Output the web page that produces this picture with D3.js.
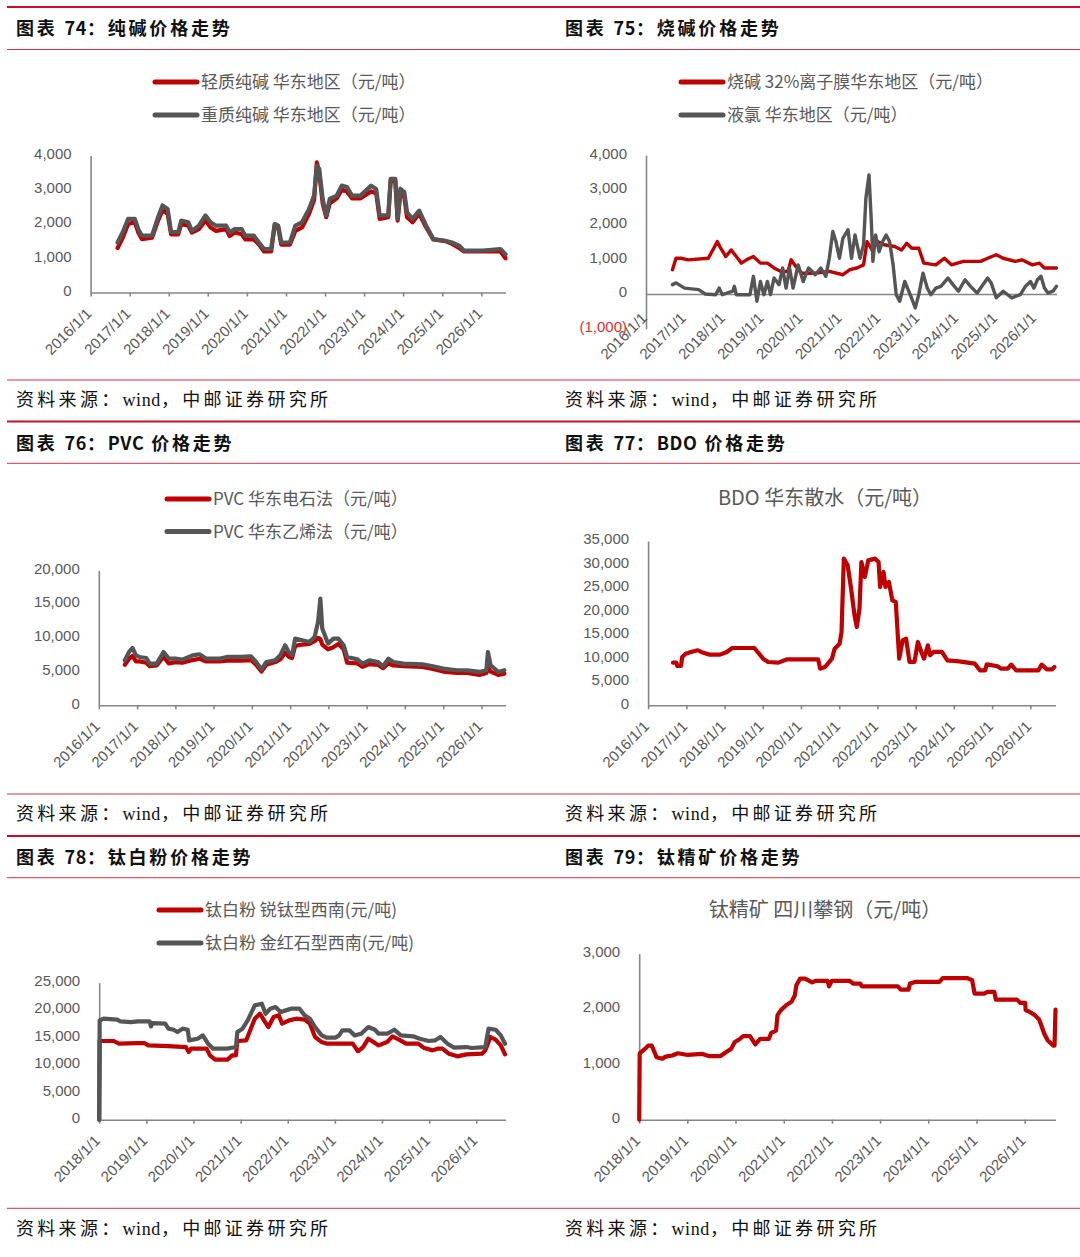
<!DOCTYPE html>
<html>
<head>
<meta charset="utf-8">
<script src="https://cdn.jsdelivr.net/npm/d3@7"></script>
<style>
  body { margin: 0; background: #fff; }
  svg { display: block; }
</style>
</head>
<body>
<svg id="page" width="1080" height="1257"></svg>
<script>
// ---- data (dates as decimal years, prices in 元/吨) ----
const yearTicks = [2016, 2017, 2018, 2019, 2020, 2021, 2022, 2023, 2024, 2025, 2026];
const yearTicksFrom2018 = [2018, 2019, 2020, 2021, 2022, 2023, 2024, 2025, 2026];

// 图表74 纯碱
const sodaYears = [2016.69, 2016.82, 2016.96, 2017.13, 2017.22, 2017.31, 2017.57, 2017.71, 2017.84, 2017.97,
  2018.06, 2018.24, 2018.32, 2018.5, 2018.59, 2018.77, 2018.94, 2019.07, 2019.21, 2019.47, 2019.56, 2019.69,
  2019.87, 2019.96, 2020.18, 2020.31, 2020.44, 2020.62, 2020.71, 2020.8, 2020.88, 2021.1, 2021.24, 2021.41,
  2021.59, 2021.72, 2021.79, 2021.85, 2021.94, 2022.03, 2022.12, 2022.3, 2022.43, 2022.56, 2022.69, 2022.91,
  2023.18, 2023.31, 2023.4, 2023.62, 2023.68, 2023.8, 2023.86, 2023.93, 2024.03, 2024.1, 2024.24, 2024.41,
  2024.59, 2024.77, 2025.08, 2025.25, 2025.43, 2025.56, 2026.04, 2026.49, 2026.62];
const sodaLight = [1300, 1600, 2000, 2050, 1750, 1560, 1600, 2050, 2400, 2300, 1700, 1700, 2000, 1950, 1750,
  1850, 2100, 1900, 1800, 1850, 1650, 1750, 1700, 1550, 1550, 1400, 1200, 1200, 1950, 1900, 1400, 1400, 1800,
  1900, 2300, 2700, 3800, 3500, 2600, 2200, 2600, 2750, 3000, 2950, 2750, 2750, 2950, 2900, 2150, 2200, 3250,
  3250, 2100, 2900, 2800, 2200, 2050, 2300, 1900, 1550, 1500, 1420, 1300, 1200, 1200, 1200, 1000];
const sodaHeavy = [1460, 1760, 2150, 2150, 1850, 1660, 1660, 2150, 2540, 2440, 1760, 1760, 2100, 2050, 1800,
  1950, 2250, 2050, 1950, 1950, 1760, 1850, 1850, 1660, 1660, 1460, 1270, 1270, 2000, 1950, 1460, 1460, 1950,
  2050, 2440, 2830, 3700, 3610, 2730, 2250, 2730, 2830, 3120, 3080, 2830, 2830, 3120, 3020, 2250, 2250, 3320,
  3320, 2150, 3030, 2930, 2340, 2150, 2390, 1950, 1560, 1510, 1460, 1370, 1220, 1220, 1270, 1120];

// 图表75 烧碱 / 液氯
const causticYears = [2016.68, 2016.77, 2016.9, 2017.08, 2017.6, 2017.74, 2017.83, 2017.92, 2018.05, 2018.19,
  2018.32, 2018.45, 2018.58, 2018.76, 2018.94, 2019.12, 2019.29, 2019.47, 2019.65, 2019.73, 2019.82, 2020.0,
  2020.35, 2020.71, 2021.06, 2021.24, 2021.42, 2021.59, 2021.68, 2021.81, 2021.95, 2022.12, 2022.39, 2022.57,
  2022.7, 2022.83, 2023.01, 2023.14, 2023.45, 2023.67, 2023.85, 2024.16, 2024.6, 2024.78, 2025.0, 2025.18,
  2025.49, 2025.66, 2025.93, 2026.11, 2026.24, 2026.37, 2026.55];
const causticPrice = [700, 1030, 1030, 985, 1030, 1320, 1510, 1320, 1080, 1270, 1080, 890, 985, 1080, 890, 890,
  750, 650, 650, 985, 840, 600, 600, 650, 555, 700, 750, 840, 1510, 1270, 1510, 1420, 1370, 1270, 1460, 1320,
  1320, 890, 840, 1030, 840, 940, 940, 1030, 1130, 1030, 940, 985, 840, 890, 750, 750, 750];
const chlorineYears = [2016.68, 2016.77, 2016.99, 2017.35, 2017.52, 2017.79, 2017.88, 2017.96, 2018.23, 2018.27,
  2018.32, 2018.67, 2018.76, 2018.85, 2018.94, 2019.03, 2019.12, 2019.2, 2019.29, 2019.42, 2019.51, 2019.6,
  2019.69, 2019.78, 2019.91, 2020.04, 2020.18, 2020.35, 2020.49, 2020.62, 2020.71, 2020.8, 2020.88, 2020.97,
  2021.06, 2021.19, 2021.28, 2021.37, 2021.5, 2021.59, 2021.65, 2021.73, 2021.79, 2021.83, 2021.9, 2021.99,
  2022.08, 2022.17, 2022.26, 2022.35, 2022.43, 2022.52, 2022.65, 2022.79, 2022.92, 2023.01, 2023.12, 2023.23,
  2023.32, 2023.45, 2023.58, 2023.76, 2023.89, 2024.03, 2024.2, 2024.34, 2024.51, 2024.78, 2024.87, 2025.0,
  2025.18, 2025.4, 2025.62, 2025.75, 2025.88, 2025.97, 2026.06, 2026.15, 2026.24, 2026.33, 2026.46, 2026.55];
const chlorinePrice = [270, 320, 170, 125, 0, -20, 170, -20, 80, 220, -20, -20, 510, -210, 360, -20, 360, -20,
  460, 270, 750, 170, 750, 170, 840, 360, 750, 555, 750, 510, 1030, 1800, 1510, 1030, 1610, 1850, 1030, 1700,
  1030, 1420, 2760, 3430, 2090, 940, 1700, 1220, 1510, 1700, 1510, 840, -20, -210, 360, -20, -400, -20, 600,
  170, -20, 170, 220, 460, 270, 80, 410, 220, 30, 460, 320, -110, 80, -110, -20, 220, 360, 170, 410, 510, 170,
  30, 80, 220];

// 图表76 PVC
const pvcYears = [2016.68, 2016.79, 2016.88, 2016.97, 2017.06, 2017.24, 2017.33, 2017.51, 2017.69, 2017.83,
  2018.0, 2018.18, 2018.45, 2018.63, 2018.81, 2019.17, 2019.35, 2019.71, 2019.98, 2020.11, 2020.25, 2020.38,
  2020.61, 2020.74, 2020.87, 2020.96, 2021.05, 2021.13, 2021.32, 2021.5, 2021.64, 2021.73, 2021.79, 2021.84,
  2021.99, 2022.13, 2022.26, 2022.4, 2022.49, 2022.76, 2022.89, 2023.07, 2023.3, 2023.43, 2023.57, 2023.7,
  2023.97, 2024.46, 2024.73, 2025.0, 2025.36, 2025.63, 2025.95, 2026.13, 2026.17, 2026.24, 2026.44, 2026.6];
const pvcCarbide = [6000, 6900, 7300, 6500, 6500, 6300, 5800, 5900, 7200, 6200, 6400, 6300, 6700, 6900, 6500,
  6500, 6600, 6600, 6700, 6000, 5000, 6000, 6400, 6800, 7800, 7200, 7000, 8800, 9000, 9100, 9500, 10000, 9800,
  9000, 8300, 8600, 9100, 8300, 6300, 6200, 5700, 6100, 6000, 5500, 6200, 5900, 5800, 5700, 5400, 5000, 4800,
  4800, 4500, 4800, 5600, 5000, 4500, 4700];
const pvcEthylene = [6670, 7900, 8490, 7400, 7160, 7010, 6170, 6170, 7900, 6910, 6910, 6770, 7400, 7560, 6910,
  6910, 7160, 7160, 7260, 6420, 5330, 6420, 6670, 7400, 8890, 7900, 7400, 9880, 9630, 9380, 10120, 12350, 15800,
  11360, 9140, 9880, 9880, 8890, 7160, 6810, 6170, 6670, 6420, 5780, 6910, 6420, 6170, 6070, 5780, 5430, 5190,
  5190, 4940, 5190, 7900, 5930, 4940, 5190];

// 图表77 BDO
const bdoYears = [2016.65, 2016.74, 2016.76, 2016.86, 2016.89, 2016.98, 2017.12, 2017.3, 2017.39, 2017.61,
  2017.88, 2018.06, 2018.2, 2018.78, 2019.01, 2019.14, 2019.41, 2019.64, 2019.86, 2020.45, 2020.5, 2020.63,
  2020.81, 2020.88, 2021.01, 2021.06, 2021.12, 2021.22, 2021.31, 2021.4, 2021.46, 2021.53, 2021.58, 2021.67,
  2021.76, 2021.94, 2022.03, 2022.07, 2022.16, 2022.21, 2022.3, 2022.39, 2022.48, 2022.57, 2022.66, 2022.75,
  2022.84, 2022.97, 2023.06, 2023.15, 2023.22, 2023.32, 2023.38, 2023.47, 2023.69, 2023.83, 2024.14, 2024.55,
  2024.68, 2024.82, 2024.86, 2025.14, 2025.23, 2025.41, 2025.5, 2025.63, 2026.21, 2026.3, 2026.43, 2026.57, 2026.63];
const bdoPrice = [9090, 9090, 8380, 8380, 10300, 11000, 11360, 11710, 11360, 10790, 10790, 11360, 12210, 12210,
  9940, 9230, 9090, 9800, 9800, 9800, 7810, 8160, 9940, 12070, 13130, 15620, 31240, 29820, 24850, 19170, 16680,
  20590, 30530, 27330, 30880, 31240, 30530, 25200, 28400, 25200, 26270, 22360, 22010, 9940, 13840, 14200, 9230,
  9230, 13490, 11360, 9940, 12780, 10650, 11360, 11360, 9580, 9370, 8870, 7450, 7450, 8730, 8310, 7810, 7810,
  8660, 7450, 7450, 8660, 7670, 7670, 8160];

// 图表78 钛白粉
const anataseYears = [2018.0, 2018.01, 2018.31, 2018.42, 2018.82, 2018.96, 2019.04, 2019.47, 2019.84, 2019.9,
  2019.95, 2020.28, 2020.35, 2020.46, 2020.72, 2020.82, 2020.9, 2020.93, 2021.12, 2021.3, 2021.41, 2021.52,
  2021.59, 2021.7, 2021.81, 2021.88, 2022.03, 2022.18, 2022.36, 2022.47, 2022.58, 2022.72, 2022.83, 2023.38,
  2023.49, 2023.6, 2023.71, 2023.82, 2023.93, 2024.11, 2024.22, 2024.36, 2024.51, 2024.77, 2024.88, 2025.07,
  2025.18, 2025.28, 2025.42, 2025.6, 2025.79, 2026.12, 2026.19, 2026.3, 2026.41, 2026.52, 2026.61];
const anatasePrice = [0, 14360, 14360, 13870, 13990, 13990, 13560, 13440, 13260, 12350, 12960, 12960, 11740,
  10950, 10950, 11740, 11740, 14360, 14480, 18430, 19340, 17820, 16910, 18730, 19040, 17520, 18130, 18430, 18250,
  17520, 15090, 14170, 13870, 13870, 12470, 13260, 14780, 14170, 13560, 14170, 15210, 14600, 13870, 13870, 13140,
  12650, 12960, 12960, 12040, 11560, 11920, 12040, 12650, 15090, 14600, 13560, 11920];
const rutileYears = [2018.0, 2018.01, 2018.09, 2018.38, 2018.45, 2018.67, 2018.82, 2019.07, 2019.1, 2019.13,
  2019.4, 2019.47, 2019.58, 2019.66, 2019.77, 2019.88, 2019.91, 2020.09, 2020.2, 2020.31, 2020.42, 2020.72,
  2020.9, 2020.93, 2021.04, 2021.15, 2021.3, 2021.45, 2021.53, 2021.63, 2021.74, 2021.85, 2021.96, 2022.07,
  2022.25, 2022.36, 2022.47, 2022.58, 2022.72, 2022.83, 2023.01, 2023.09, 2023.16, 2023.31, 2023.42, 2023.56,
  2023.71, 2023.85, 2023.93, 2024.11, 2024.26, 2024.4, 2024.66, 2024.8, 2024.99, 2025.13, 2025.24, 2025.39,
  2025.53, 2025.79, 2025.9, 2026.19, 2026.26, 2026.41, 2026.52, 2026.61];
const rutilePrice = [0, 18130, 18430, 18250, 17940, 17820, 17940, 17940, 17030, 17640, 17520, 16610, 16420,
  16000, 16610, 16420, 14480, 14780, 15390, 13870, 12960, 12960, 13260, 16000, 16610, 18130, 20860, 21170, 19340,
  20260, 20560, 19650, 19950, 20260, 20260, 19040, 18430, 16910, 15390, 14960, 14960, 15390, 16300, 16300, 15390,
  15690, 16910, 16420, 15690, 15690, 16420, 15390, 15210, 14780, 14360, 14480, 15090, 13870, 13140, 13260, 13080,
  13260, 16610, 16420, 15390, 13870];

// 图表79 钛精矿
const oreYears = [2018.0, 2018.01, 2018.12, 2018.19, 2018.26, 2018.36, 2018.48, 2018.55, 2018.69, 2018.8,
  2019.01, 2019.16, 2019.3, 2019.44, 2019.69, 2019.8, 2019.91, 2019.98, 2020.09, 2020.16, 2020.3, 2020.41,
  2020.51, 2020.69, 2020.74, 2020.84, 2020.87, 2020.94, 2021.05, 2021.16, 2021.23, 2021.26, 2021.34, 2021.44,
  2021.59, 2021.66, 2021.91, 2021.94, 2022.0, 2022.37, 2022.44, 2022.59, 2022.62, 2023.37, 2023.43, 2023.59,
  2023.62, 2023.73, 2024.23, 2024.3, 2024.8, 2024.91, 2024.96, 2025.16, 2025.23, 2025.37, 2025.4, 2025.84,
  2025.91, 2026.01, 2026.02, 2026.1, 2026.21, 2026.3, 2026.41, 2026.48, 2026.59, 2026.62, 2026.64];
const orePrice = [0, 1200, 1280, 1340, 1340, 1130, 1100, 1140, 1160, 1200, 1170, 1180, 1190, 1150, 1150, 1220,
  1280, 1400, 1460, 1510, 1510, 1360, 1460, 1460, 1570, 1610, 1890, 1980, 2070, 2130, 2250, 2430, 2550, 2550,
  2480, 2510, 2510, 2410, 2510, 2510, 2460, 2460, 2410, 2410, 2350, 2350, 2460, 2490, 2490, 2560, 2560, 2520,
  2280, 2280, 2310, 2310, 2170, 2170, 2110, 2110, 1980, 1950, 1890, 1810, 1550, 1430, 1340, 1340, 1990];

// ---- drawing ----
const RED = "#c00000", GREY = "#555555", AXIS = "#868686", TEXT = "#595959", RULE = "#c8102e";
const CJK = "'Noto Sans CJK SC', sans-serif";
const NUM = "'Liberation Sans', Arial, sans-serif";
const svg = d3.select("#page");

function fromYear(v) {
  const y = Math.floor(v);
  const a = Date.UTC(y, 0, 1), b = Date.UTC(y + 1, 0, 1);
  return new Date(a + (v - y) * (b - a));
}
const zip = (xs, ys) => xs.map((d, i) => [d, ys[i]]).filter(d => d[1] != null);
const fmtNum = v => v < 0 ? "(" + d3.format(",")(-v) + ")" : d3.format(",")(v);
const fmtDate = d3.utcFormat("%Y/%-m/%-d");

// CJK runs get wide spacing, latin/digit runs stay tight
function spacedText(sel, str, spacing) {
  str.split(/([0-9A-Za-z]+)/).filter(s => s.length).forEach(part => {
    const latin = /^[0-9A-Za-z]+$/.test(part);
    sel.append("tspan").attr("letter-spacing", latin ? 0.6 : spacing).text(part);
  });
}

// page rules, titles and sources
const rows = [
  { top: 7, titleY: 28.5, sub: 49.5, foot: 380, srcY: 400, titles: ["图表 74：纯碱价格走势", "图表 75：烧碱价格走势"] },
  { top: 421.5, titleY: 443.5, sub: 463.3, foot: 794, srcY: 814, titles: ["图表 76：PVC 价格走势", "图表 77：BDO 价格走势"] },
  { top: 836, titleY: 857.5, sub: 877.7, foot: 1208.3, srcY: 1228.5, titles: ["图表 78：钛白粉价格走势", "图表 79：钛精矿价格走势"] }
];
rows.forEach(r => {
  svg.append("line").attr("x1", 7).attr("x2", 1080).attr("y1", r.top).attr("y2", r.top)
    .attr("stroke", RULE).attr("stroke-width", 2.2);
  [r.sub, r.foot].forEach(yy => svg.append("line").attr("x1", 7).attr("x2", 1080).attr("y1", yy).attr("y2", yy)
    .attr("stroke", RULE).attr("stroke-width", 1).attr("opacity", 0.85));
  r.titles.forEach((t, i) => {
    const tt = svg.append("text").attr("x", i ? 565 : 16).attr("y", r.titleY).attr("dy", "0.36em")
      .attr("font-family", CJK).attr("font-weight", 700).attr("font-size", 18).attr("fill", "#111");
    spacedText(tt, t, 2.8);
    const st = svg.append("text").attr("x", i ? 565 : 16).attr("y", r.srcY).attr("dy", "0.36em")
      .attr("font-family", "'Liberation Serif', 'Noto Sans CJK SC', serif").attr("font-size", 18).attr("fill", "#111");
    spacedText(st, "资料来源：wind，中邮证券研究所", 3.3);
  });
});

function drawChart(c) {
  const g = svg.append("g");
  const x = d3.scaleUtc().domain([fromYear(c.start), fromYear(c.end)]).range([c.left, c.right]);
  const y = d3.scaleLinear().domain(c.yDomain).range([c.bottom, c.top]);

  // y axis
  const ya = g.append("g").attr("transform", `translate(${c.left},0)`)
    .call(d3.axisLeft(y).tickValues(c.yTicks).tickSize(0).tickPadding(19).tickFormat(fmtNum));
  ya.select(".domain").attr("stroke", AXIS).attr("stroke-width", 1.6);
  ya.selectAll("text").attr("font-family", NUM).attr("font-size", 15)
    .attr("fill", d => d < 0 ? "#e0301e" : TEXT).attr("dy", "0.32em").attr("y", -2);

  // x axis at zero
  const xa = g.append("g").attr("transform", `translate(0,${y(0)})`)
    .call(d3.axisBottom(x).tickValues(c.xTicks.map(fromYear)).tickSize(c.tickLen).tickSizeOuter(0).tickFormat(""));
  xa.select(".domain").attr("stroke", AXIS).attr("stroke-width", 1.6);
  xa.selectAll(".tick line").attr("stroke", AXIS).attr("stroke-width", 1.6);

  const ly = c.labelBase != null ? c.labelBase : y(c.yDomain[0]);
  g.selectAll(".xl").data(c.xTicks).join("text")
    .attr("transform", d => `translate(${x(fromYear(d)) + 2},${ly + 22}) rotate(-45)`)
    .attr("text-anchor", "end").attr("font-family", NUM).attr("font-size", 15).attr("fill", TEXT)
    .text(d => fmtDate(fromYear(d)));

  // series
  const line = d3.line().x(d => x(fromYear(d[0]))).y(d => y(d[1]));
  c.series.forEach(s => {
    g.append("path").datum(zip(s.years, s.values)).attr("d", line)
      .attr("fill", "none").attr("stroke", s.color).attr("stroke-width", c.lineWidth)
      .attr("stroke-linejoin", "round").attr("stroke-linecap", "round");
  });

  // legend or centred title
  if (c.legend) {
    c.series.forEach((s, i) => {
      const yy = c.legend.y[i];
      g.append("line").attr("x1", c.legend.x).attr("x2", c.legend.x + 42).attr("y1", yy).attr("y2", yy)
        .attr("stroke", s.color).attr("stroke-width", 5).attr("stroke-linecap", "round");
      g.append("text").attr("x", c.legend.x + 46).attr("y", yy).attr("dy", "0.36em")
        .attr("font-family", CJK).attr("font-size", 17).attr("fill", TEXT).text(s.name);
    });
  } else {
    g.append("text").attr("x", c.caption.x).attr("y", c.caption.y).attr("dy", "0.36em")
      .attr("text-anchor", "middle").attr("font-family", CJK).attr("font-size", 20).attr("fill", TEXT)
      .text(c.series[0].name);
  }
}

drawChart({
  left: 90.6, right: 505.5, top: 155.5, bottom: 292.5, start: 2016, end: 2026.62,
  yDomain: [0, 4000], yTicks: [0, 1000, 2000, 3000, 4000], xTicks: yearTicks, tickLen: 4, lineWidth: 4.2,
  legend: { x: 155, y: [82, 115] },
  series: [
    { name: "轻质纯碱 华东地区（元/吨）", years: sodaYears, values: sodaLight, color: RED },
    { name: "重质纯碱 华东地区（元/吨）", years: sodaYears, values: sodaHeavy, color: GREY }
  ]
});
drawChart({
  left: 646, right: 1056.5, top: 155.2, bottom: 328.7, start: 2016, end: 2026.55,
  yDomain: [-1000, 4000], yTicks: [-1000, 0, 1000, 2000, 3000, 4000], xTicks: yearTicks, tickLen: 0,
  lineWidth: 3.4, labelBase: 297,
  legend: { x: 681, y: [82, 115] },
  series: [
    { name: "烧碱 32%离子膜华东地区（元/吨）", years: causticYears, values: causticPrice, color: RED },
    { name: "液氯 华东地区（元/吨）", years: chlorineYears, values: chlorinePrice, color: GREY }
  ]
});
drawChart({
  left: 98.8, right: 505.5, top: 570.3, bottom: 705.3, start: 2016, end: 2026.63,
  yDomain: [0, 20000], yTicks: [0, 5000, 10000, 15000, 20000], xTicks: yearTicks, tickLen: 4, lineWidth: 4.2,
  legend: { x: 167, y: [499, 531.5] },
  series: [
    { name: "PVC 华东电石法（元/吨）", years: pvcYears, values: pvcCarbide, color: RED },
    { name: "PVC 华东乙烯法（元/吨）", years: pvcYears, values: pvcEthylene, color: GREY }
  ]
});
drawChart({
  left: 648.1, right: 1055.5, top: 541, bottom: 705.3, start: 2016, end: 2026.66,
  yDomain: [0, 35000], yTicks: [0, 5000, 10000, 15000, 20000, 25000, 30000, 35000], xTicks: yearTicks,
  tickLen: 4, lineWidth: 4.2,
  caption: { x: 825, y: 498 },
  series: [{ name: "BDO 华东散水（元/吨）", years: bdoYears, values: bdoPrice, color: RED }]
});
drawChart({
  left: 99.2, right: 505.5, top: 982.7, bottom: 1119.7, start: 2018, end: 2026.62,
  yDomain: [0, 25000], yTicks: [0, 5000, 10000, 15000, 20000, 25000], xTicks: yearTicksFrom2018,
  tickLen: 4, lineWidth: 4.2,
  legend: { x: 159, y: [910, 943] },
  series: [
    { name: "钛白粉 锐钛型西南(元/吨)", years: anataseYears, values: anatasePrice, color: RED },
    { name: "钛白粉 金红石型西南(元/吨)", years: rutileYears, values: rutilePrice, color: GREY }
  ]
});
drawChart({
  left: 639.2, right: 1055.5, top: 953.7, bottom: 1119.7, start: 2018, end: 2026.64,
  yDomain: [0, 3000], yTicks: [0, 1000, 2000, 3000], xTicks: yearTicksFrom2018, tickLen: 4, lineWidth: 4.2,
  caption: { x: 825, y: 910 },
  series: [{ name: "钛精矿 四川攀钢（元/吨）", years: oreYears, values: orePrice, color: RED }]
});
</script>
</body>
</html>
